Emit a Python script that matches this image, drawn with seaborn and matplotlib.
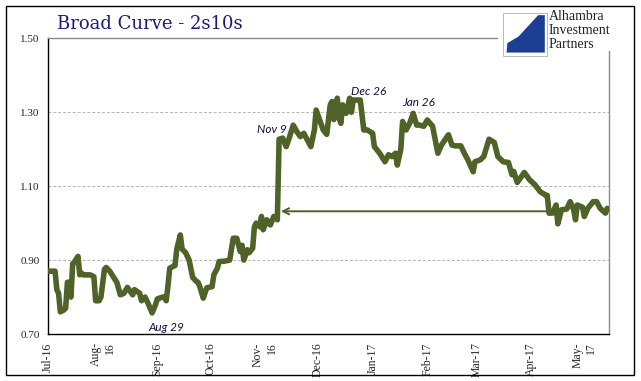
import numpy as np
import pandas as pd
import matplotlib
matplotlib.use("Agg")
import matplotlib.pyplot as plt
from matplotlib.patches import Rectangle, Polygon
import seaborn as sns

# 2s10s spread
dates = [
    "2016-07-01", "2016-07-05", "2016-07-06", "2016-07-07", "2016-07-08", "2016-07-10",
    "2016-07-11", "2016-07-12", "2016-07-13", "2016-07-14", "2016-07-15", "2016-07-16",
    "2016-07-18", "2016-07-19", "2016-07-20", "2016-07-21", "2016-07-25", "2016-07-27",
    "2016-07-28", "2016-07-30", "2016-07-31", "2016-08-02", "2016-08-03", "2016-08-05",
    "2016-08-07", "2016-08-09", "2016-08-11", "2016-08-13", "2016-08-15", "2016-08-18",
    "2016-08-19", "2016-08-22", "2016-08-23", "2016-08-25", "2016-08-27", "2016-08-29",
    "2016-08-31", "2016-09-01", "2016-09-04", "2016-09-05", "2016-09-06", "2016-09-07",
    "2016-09-08", "2016-09-10", "2016-09-11", "2016-09-12", "2016-09-14", "2016-09-15",
    "2016-09-17", "2016-09-19", "2016-09-21", "2016-09-23", "2016-09-24", "2016-09-25",
    "2016-09-27", "2016-09-29", "2016-10-01", "2016-10-02", "2016-10-03", "2016-10-05",
    "2016-10-06", "2016-10-09", "2016-10-12", "2016-10-13", "2016-10-14", "2016-10-16",
    "2016-10-18", "2016-10-19", "2016-10-20", "2016-10-22", "2016-10-23", "2016-10-25",
    "2016-10-26", "2016-10-27", "2016-10-29", "2016-10-30", "2016-10-31", "2016-11-02",
    "2016-11-04", "2016-11-06", "2016-11-08", "2016-11-09", "2016-11-11", "2016-11-13",
    "2016-11-15", "2016-11-17", "2016-11-19", "2016-11-21", "2016-11-23", "2016-11-25",
    "2016-11-27", "2016-11-29", "2016-11-30", "2016-12-02", "2016-12-04", "2016-12-06",
    "2016-12-08", "2016-12-09", "2016-12-10", "2016-12-12", "2016-12-13", "2016-12-14",
    "2016-12-15", "2016-12-17", "2016-12-19", "2016-12-20", "2016-12-21", "2016-12-25",
    "2016-12-27", "2016-12-29", "2017-01-01", "2017-01-02", "2017-01-05", "2017-01-08",
    "2017-01-10", "2017-01-12", "2017-01-14", "2017-01-15", "2017-01-17", "2017-01-18",
    "2017-01-20", "2017-01-22", "2017-01-24", "2017-01-26", "2017-01-27", "2017-01-30",
    "2017-02-01", "2017-02-04", "2017-02-07", "2017-02-09", "2017-02-13", "2017-02-15",
    "2017-02-17", "2017-02-20", "2017-02-22", "2017-02-24", "2017-02-27", "2017-02-28",
    "2017-03-03", "2017-03-05", "2017-03-07", "2017-03-08", "2017-03-11", "2017-03-13",
    "2017-03-16", "2017-03-19", "2017-03-21", "2017-03-22", "2017-03-24", "2017-03-28",
    "2017-03-31", "2017-04-03", "2017-04-06", "2017-04-09", "2017-04-10", "2017-04-11",
    "2017-04-13", "2017-04-15", "2017-04-16", "2017-04-18", "2017-04-21", "2017-04-23",
    "2017-04-25", "2017-04-26", "2017-04-27", "2017-04-30", "2017-05-01", "2017-05-03",
    "2017-05-06", "2017-05-08", "2017-05-10", "2017-05-13", "2017-05-14",
]
spread = [
    0.870, 0.870, 0.820, 0.810, 0.760, 0.765,
    0.770, 0.840, 0.840, 0.800, 0.890, 0.895,
    0.910, 0.860, 0.865, 0.860, 0.860, 0.855,
    0.790, 0.790, 0.800, 0.875, 0.880, 0.870,
    0.855, 0.840, 0.806, 0.810, 0.826, 0.806,
    0.820, 0.810, 0.790, 0.800, 0.780, 0.757,
    0.780, 0.795, 0.800, 0.800, 0.790, 0.830,
    0.878, 0.883, 0.885, 0.930, 0.968, 0.930,
    0.920, 0.900, 0.853, 0.843, 0.840, 0.829,
    0.797, 0.825, 0.827, 0.828, 0.860, 0.878,
    0.896, 0.897, 0.900, 0.930, 0.959, 0.959,
    0.923, 0.940, 0.900, 0.928, 0.920, 0.932,
    0.990, 1.000, 0.990, 1.018, 0.982, 1.009,
    0.995, 1.018, 1.009, 1.227, 1.230, 1.207,
    1.234, 1.265, 1.248, 1.234, 1.243, 1.225,
    1.207, 1.252, 1.306, 1.279, 1.252, 1.240,
    1.320, 1.329, 1.280, 1.338, 1.284, 1.270,
    1.320, 1.297, 1.338, 1.300, 1.333, 1.333,
    1.252, 1.252, 1.243, 1.207, 1.189, 1.166,
    1.185, 1.180, 1.189, 1.157, 1.200, 1.275,
    1.252, 1.270, 1.297, 1.265, 1.266, 1.262,
    1.279, 1.262, 1.189, 1.211, 1.239, 1.211,
    1.209, 1.209, 1.189, 1.171, 1.139, 1.166,
    1.171, 1.180, 1.211, 1.227, 1.218, 1.180,
    1.166, 1.164, 1.131, 1.140, 1.110, 1.137,
    1.117, 1.104, 1.085, 1.076, 1.075, 1.027,
    1.027, 1.049, 0.998, 1.036, 1.038, 1.058,
    1.036, 1.009, 1.049, 1.043, 1.018, 1.040,
    1.058, 1.058, 1.040, 1.027, 1.040,
]

note_labels = ["Aug 29", "Nov 9", "Dec 26", "Jan 26"]
note_dates = ["2016-09-06", "2016-11-05", "2016-12-30", "2017-01-27"]
note_values = [0.718, 1.252, 1.355, 1.325]

arrow_from = "2017-04-10"
arrow_to = "2016-11-10"
arrow_level = 1.032

month_ticks = pd.date_range("2016-07-01", "2017-05-01", freq="MS")
month_labels = ["Jul-16", "Aug-\n16", "Sep-16", "Oct-16", "Nov-\n16", "Dec-16",
                "Jan-17", "Feb-17", "Mar-17", "Apr-17", "May-\n17"]
y_ticks = [0.70, 0.90, 1.10, 1.30, 1.50]

LINE_COLOR = "#4f6228"
TITLE_COLOR = "#1a1a7e"

sns.set_style("white")
plt.rcParams["font.family"] = ["DejaVu Serif"]

df = pd.DataFrame({"date": pd.to_datetime(dates), "spread": spread})

fig = plt.figure(figsize=(6.41, 3.81), dpi=100)
ax = fig.add_axes([48 / 641, 1 - 334 / 381, (609 - 48) / 641, (334 - 38.3) / 381])

sns.lineplot(data=df, x="date", y="spread", ax=ax, color=LINE_COLOR, lw=4.0,
             solid_joinstyle="round", solid_capstyle="round", zorder=3)

ax.set_xlim(pd.Timestamp("2016-07-01"), pd.Timestamp("2017-05-15"))
ax.set_ylim(0.70, 1.50)
ax.set_xlabel("")
ax.set_ylabel("")

ax.set_yticks(y_ticks)
ax.set_yticklabels([f"{v:.2f}" for v in y_ticks], family="Liberation Serif", fontsize=8)
ax.set_xticks(month_ticks)
ax.set_xticklabels(month_labels, rotation=90, family="Liberation Serif", fontsize=8.5,
                   va="top", ha="center", multialignment="right")
ax.tick_params(axis="both", direction="out", length=4, width=0.8, color="black", pad=2)

for v in y_ticks[1:-1]:
    ax.axhline(v, color="#b5b5b5", lw=0.7, ls=(0, (3, 2)), zorder=1)

for side in ["left", "bottom"]:
    ax.spines[side].set_color("black")
    ax.spines[side].set_linewidth(1.0)
for side in ["top", "right"]:
    ax.spines[side].set_color("#8a8a8a")
    ax.spines[side].set_linewidth(1.0)

# horizontal arrow back to the pre-election level
ax.annotate("", xy=(pd.Timestamp(arrow_to), arrow_level),
            xytext=(pd.Timestamp(arrow_from), arrow_level),
            arrowprops=dict(arrowstyle="->", color=LINE_COLOR, lw=1.4,
                            mutation_scale=11, shrinkA=0, shrinkB=0), zorder=2)

for lab, d, v in zip(note_labels, note_dates, note_values):
    ax.text(pd.Timestamp(d), v, lab, ha="center", va="center", fontsize=8.5,
            style="italic", family="Lato", color="#10103a", zorder=4)

fig.text(57 / 641, 1 - 24 / 381, "Broad Curve - 2s10s", fontsize=13,
         family="DejaVu Serif", color=TITLE_COLOR, va="center", ha="left")

# logo block
fig.patches.append(Rectangle((498 / 641, 1 - 51 / 381), 124 / 641, 42 / 381,
                             transform=fig.transFigure, facecolor="white",
                             edgecolor="none", zorder=5))
fig.patches.append(Rectangle((503 / 641, 1 - 56 / 381), 44 / 641, 43 / 381,
                             transform=fig.transFigure, facecolor="white",
                             edgecolor="#b0b0b0", lw=0.6, zorder=6))
logo_shape = np.array([[0.08, 0.08], [0.95, 0.08], [0.95, 0.95], [0.80, 0.95],
                       [0.35, 0.45], [0.10, 0.30]])
logo_x = (503 + logo_shape[:, 0] * 44) / 641
logo_y = 1 - (56 - logo_shape[:, 1] * 43) / 381
fig.patches.append(Polygon(np.column_stack([logo_x, logo_y]), closed=True,
                           transform=fig.transFigure, facecolor="#1b3f93",
                           edgecolor="none", zorder=7))
for i, word in enumerate(["Alhambra", "Investment", "Partners"]):
    fig.text(549 / 641, 1 - (17 + 13.5 * i) / 381, word, fontsize=10,
             family="Liberation Serif", color="#222222", va="center", ha="left",
             zorder=8)

# outer frame
fig.patches.append(Rectangle((6 / 641, 1 - 375 / 381), 628 / 641, 369 / 381,
                             transform=fig.transFigure, facecolor="none",
                             edgecolor="black", lw=1.0, zorder=9))

fig.savefig("out.png", dpi=100)
